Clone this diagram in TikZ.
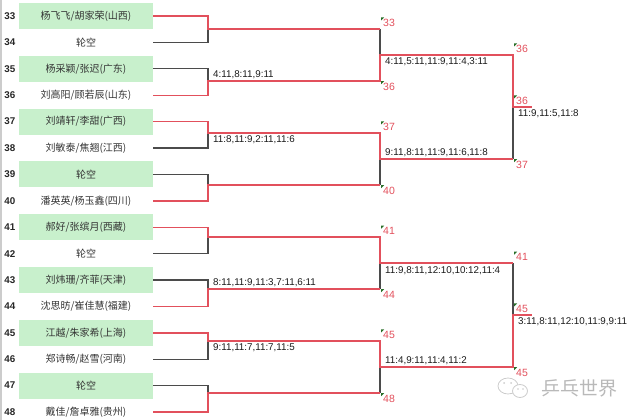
\documentclass[tikz,border=0pt]{standalone}
\usepackage{fontspec}
\setmainfont{Liberation Sans}
\newfontfamily\cjk{Noto Sans CJK SC}
\usetikzlibrary{positioning,calc}
\definecolor{winred}{RGB}{226,80,92}
\definecolor{losegray}{RGB}{75,75,75}
\definecolor{cellgreen}{RGB}{200,240,204}
\definecolor{tickgreen}{RGB}{40,110,40}
\tikzset{gcell/.style={fill=cellgreen,minimum width=134pt,minimum height=26pt,inner sep=0pt,font=\cjk\fontsize{10}{12}\selectfont,text=black!80}  }
\tikzset{wcell/.style={gcell,fill=none}  }
\tikzset{seed/.style={font=\bfseries\fontsize{9.8}{11}\selectfont,text=black!85}  }
\tikzset{win/.style={draw=winred,line width=1.4pt}  }
\tikzset{lose/.style={draw=losegray,line width=1.4pt}  }
\tikzset{score/.style={font=\fontsize{9.8}{11}\selectfont,inner sep=2pt,text=black!90}  }
\tikzset{tag/.style={font=\fontsize{10.5}{12}\selectfont,inner sep=2pt,text=winred,
    path picture={\fill[tickgreen] (path picture bounding box.north west) -- ++(3pt,0) -- ++(-3pt,-3pt) -- cycle;}}  }

\begin{document}
\begin{tikzpicture}[x=1pt,y=-1pt]
	\useasboundingbox (0,0) rectangle (640,420);
	\draw[gray!40,line width=1.5pt] (0.75,0) -- (0.75,420);

	% players
	\node[gcell] (p33) at (86,16) {杨飞飞/胡家荣(山西)};
	\node[wcell,below=0pt of p33] (p34) {轮空};
	\node[gcell,below=0pt of p34] (p35) {杨采颖/张迟(广东)};
	\node[wcell,below=0pt of p35] (p36) {刘高阳/顾若辰(山东)};
	\node[gcell,below=0pt of p36] (p37) {刘靖轩/李甜(广西)};
	\node[wcell,below=0pt of p37] (p38) {刘敏泰/焦翘(江西)};
	\node[gcell,below=0pt of p38] (p39) {轮空};
	\node[wcell,below=0pt of p39] (p40) {潘英英/杨玉鑫(四川)};
	\node[gcell,below=0pt of p40] (p41) {郝好/张缤月(西藏)};
	\node[wcell,below=0pt of p41] (p42) {轮空};
	\node[gcell,below=0pt of p42] (p43) {刘炜珊/齐菲(天津)};
	\node[wcell,below=0pt of p43] (p44) {沈思昉/崔佳慧(福建)};
	\node[gcell,below=0pt of p44] (p45) {江越/朱家希(上海)};
	\node[wcell,below=0pt of p45] (p46) {郑诗畅/赵雪(河南)};
	\node[gcell,below=0pt of p46] (p47) {轮空};
	\node[wcell,below=0pt of p47] (p48) {戴佳/詹卓雅(贵州)};

	\foreach \k in {33,...,48}
		\node[seed,left=0pt of p\k] (n\k) {\k};

	% bracket points
	\coordinate (a1) at (208,29);  \coordinate (b1) at (380,29);
	\coordinate (a2) at (208,81);  \coordinate (b2) at (380,81);
	\coordinate (a3) at (208,133); \coordinate (b3) at (380,133);
	\coordinate (a4) at (208,185); \coordinate (b4) at (380,185);
	\coordinate (a5) at (208,237); \coordinate (b5) at (380,237);
	\coordinate (a6) at (208,289); \coordinate (b6) at (380,289);
	\coordinate (a7) at (208,341); \coordinate (b7) at (380,341);
	\coordinate (a8) at (208,393); \coordinate (b8) at (380,393);
	\coordinate (c1) at (380,55);  \coordinate (d1) at (513,55);
	\coordinate (c2) at (380,159); \coordinate (d2) at (513,159);
	\coordinate (c3) at (380,263); \coordinate (d3) at (513,263);
	\coordinate (c4) at (380,367); \coordinate (d4) at (513,367);
	\coordinate (e1) at (513,107); \coordinate (f1) at (532,107);
	\coordinate (e2) at (513,315); \coordinate (f2) at (532,315);

	\draw[lose] (p34.east) -| (a1) (p35.east) -| (a2) (p38.east) -| (a3) (p39.east) -| (a4)
		(p42.east) -| (a5) (p43.east) -| (a6) (p46.east) -| (a7) (p47.east) -| (a8);
	\draw[lose] (b1) -- (c1) (b4) -- (c2) (b6) -- (c3) (b8) -- (c4) (d2) -- (e1) (d3) -- (e2);

	\draw[win] (p33.east) -| (a1) -- (b1);
	\draw[win] (p36.east) -| (a2) -- (b2) -- (c1) -- (d1) -- (e1) -- (f1);
	\draw[win] (p37.east) -| (a3) -- (b3) -- (c2) -- (d2);
	\draw[win] (p40.east) -| (a4) -- (b4);
	\draw[win] (p41.east) -| (a5) -- (b5) -- (c3) -- (d3);
	\draw[win] (p44.east) -| (a6) -- (b6);
	\draw[win] (p45.east) -| (a7) -- (b7) -- (c4) -- (d4) -- (e2) -- (f2);
	\draw[win] (p48.east) -| (a8) -- (b8);

	% scores
	\node[score,above right=0pt and 3pt of a2] (s2) {4:11,8:11,9:11};
	\node[score,below right=0pt and 3pt of a3] (s3) {11:8,11:9,2:11,11:6};
	\node[score,above right=0pt and 3pt of a6] (s6) {8:11,11:9,11:3,7:11,6:11};
	\node[score,below right=0pt and 3pt of a7] (s7) {9:11,11:7,11:7,11:5};
	\node[score,below right=0pt and 3pt of c1] (t1) {4:11,5:11,11:9,11:4,3:11};
	\node[score,above right=0pt and 3pt of c2] (t2) {9:11,8:11,11:9,11:6,11:8};
	\node[score,below right=1pt and 3pt of c3] (t3) {11:9,8:11,12:10,10:12,11:4};
	\node[score,above right=0pt and 3pt of c4] (t4) {11:4,9:11,11:4,11:2};
	\node[score,below right=0pt and 3pt of e1] (u1) {11:9,11:5,11:8};
	\node[score,below right=0pt and 3pt of e2] (u2) {3:11,8:11,12:10,11:9,9:11};

	% winners
	\node[tag,above right=0pt and 1pt of b1] (g1) {33};
	\node[tag,below right=0pt and 1pt of b2] (g2) {36};
	\node[tag,above right=0pt and 1pt of b3] (g3) {37};
	\node[tag,below right=0pt and 1pt of b4] (g4) {40};
	\node[tag,above right=0pt and 1pt of b5] (g5) {41};
	\node[tag,below right=0pt and 1pt of b6] (g6) {44};
	\node[tag,above right=0pt and 1pt of b7] (g7) {45};
	\node[tag,below right=0pt and 1pt of b8] (g8) {48};
	\node[tag,above right=0pt and 1pt of d1] (h1) {36};
	\node[tag,below right=0pt and 1pt of d2] (h2) {37};
	\node[tag,above right=0pt and 1pt of d3] (h3) {41};
	\node[tag,below right=0pt and 1pt of d4] (h4) {45};
	\node[tag,above right=0pt and 1pt of e1] (k1) {36};
	\node[tag,above right=0pt and 1pt of e2] (k2) {45};

	% watermark
	\draw[gray!40,line width=0.8pt] (508,386) ellipse (10pt and 8pt);
	\fill[white] (520,391) ellipse (7.5pt and 6.5pt);
	\draw[gray!40,line width=0.8pt] (520,391) ellipse (7.5pt and 6.5pt);
	\fill[gray!40] (504,383) circle (1pt) (511,383) circle (1pt) (518,389) circle (0.8pt) (523,389) circle (0.8pt);
	\node[text=gray!55,font=\cjk\fontsize{19}{20}\selectfont] (wm) at (579,388) {乒乓世界};
\end{tikzpicture}
\end{document}
